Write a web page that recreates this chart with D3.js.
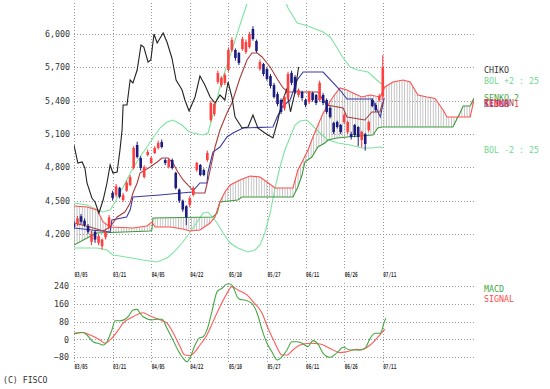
<!DOCTYPE html>
<html>
<head>
<meta charset="utf-8">
<script src="https://cdn.jsdelivr.net/npm/d3@7"></script>
<style>
  body { margin: 0; background: #fff; }
  svg { display: block; }
  text { font-family: "DejaVu Sans Mono", monospace; }
</style>
</head>
<body>
<div id="chart"></div>
<script>
// dates on the x axis, one label every 11 trading days (day index 0 = 03/05)
var dayLabels = ['03/05','03/21','04/05','04/22','05/10','05/27','06/11','06/26','07/11'];
var priceTicks = [4200, 4500, 4800, 5100, 5400, 5700, 6000];
var macdTicks = [-80, 0, 80, 160, 240];

// daily candles, day 0..88
var opens  = [4290,4290,4360,4320,4270,4130,4220,4120,4090,4170,4260,4570,4550,4615,4505,4590,4640,4794,5001,4884,
              4713,4911,4839,4929,4974,5028,4866,4803,4866,4750,4600,4500,4450,4461,4551,4776,4821,4776,4866,5226,
              5280,5568,5541,5559,5676,5856,5856,5829,5865,5838,5883,6045,5937,5685,5730,5685,5622,5541,5460,5406,
              5330,5420,5650,5613,5451,5478,5406,5388,5469,5451,5406,5451,5406,5334,5199,5208,5181,5208,5118,5100,
              5181,5163,5046,5100,5136,5406,5361,5406,5440];
var closes = [4263,4340,4310,4280,4220,4200,4150,4180,4150,4220,4350,4525,4630,4535,4550,4660,4713,4974,4893,4794,
              4803,4938,4884,4974,5019,4983,4839,4866,4794,4614,4500,4420,4350,4524,4614,4839,4731,4731,4929,5379,
              5370,5649,5604,5631,5856,5946,5784,5739,5955,5928,6000,5955,5847,5748,5640,5595,5532,5433,5370,5298,
              5433,5640,5560,5478,5496,5424,5361,5478,5406,5379,5560,5379,5298,5253,5118,5163,5118,5271,5208,5073,
              5091,5073,5118,5010,5208,5352,5316,5440,5700];
var highs  = [4317,4362,4380,4340,4290,4230,4236,4200,4160,4235,4370,4590,4650,4625,4570,4680,4730,4990,5030,4900,
              4820,4960,4900,4990,5040,5050,4880,4880,4880,4760,4610,4510,4460,4540,4630,4850,4830,4790,4950,5400,
              5390,5670,5620,5650,5880,5970,5870,5840,5975,5950,6020,6070,5950,5770,5740,5700,5640,5560,5480,5420,
              5450,5660,5670,5630,5510,5490,5420,5490,5480,5460,5580,5470,5420,5350,5210,5220,5190,5290,5220,5120,
              5190,5170,5130,5110,5220,5420,5380,5460,5810];
var lows   = [4245,4272,4290,4265,4200,4100,4120,4100,4060,4150,4250,4500,4530,4520,4490,4580,4630,4780,4880,4770,
              4700,4900,4830,4920,4960,4970,4820,4790,4780,4600,4480,4400,4280,4440,4540,4760,4720,4720,4850,5210,
              5260,5550,5520,5540,5660,5840,5760,5720,5850,5820,5870,5940,5830,5670,5620,5580,5510,5420,5350,5280,
              5310,5400,5540,5460,5430,5400,5340,5370,5390,5360,5390,5360,5280,5240,5100,5150,5100,5190,5100,5050,
              5070,4990,4980,4950,5120,5340,5300,5390,5400];

// indicator lines as [day, value]
var chiko = [[0,5001],[1.1,4839],[2.3,4848],[3.1,4794],[3.7,4659],[5.1,4524],[6,4488],[7.1,4389],[8.3,4506],[9.4,4659],
             [10.3,4821],[11.1,4749],[12.3,4758],[13.1,4956],[13.7,5136],[14,5361],[15.1,5361],[16,5586],[16.8,5559],
             [18,5676],[19.1,5901],[19.9,5883],[21.1,5748],[21.9,5766],[22.8,6000],[23.7,5919],[25.4,6009],[26.5,5928],
             [27.9,5784],[29.1,5586],[30.8,5496],[31.6,5406],[32.8,5307],[34.5,5433],[35.9,5622],[37.3,5541],[38.8,5433],
             [40.2,5379],[41.6,5451],[43,5406],[43.9,5568],[45,5433],[45.9,5253],[47.9,5154],[49.6,5163],[51,5271],
             [52.4,5154],[54.4,5109],[56.7,5064],[57.9,5199],[59.3,5388],[60.6,5500],[61.7,5300],[63,5480],[64,5703]];
var tenkan = [[0,4299],[4.6,4263],[8.3,4227],[10.3,4263],[12.3,4353],[14.5,4398],[16,4479],[16.8,4569],[18,4659],
              [18.8,4749],[21.7,4803],[23.7,4848],[25.1,4884],[26.8,4884],[28.2,4839],[29.6,4758],[31.1,4686],[32.5,4641],
              [34.5,4569],[37.3,4569],[38.2,4686],[40.2,4983],[41.6,5136],[43.6,5289],[45,5379],[47.3,5604],[49.3,5766],
              [50.7,5829],[52.2,5829],[53.6,5793],[55.9,5703],[58.1,5586],[59.6,5514],[61,5478],[69.5,5478],[71,5406],
              [72.1,5361],[76.7,5334],[77.8,5253],[82.9,5226],[84.9,5298],[87.2,5298],[88,5388]];
var kijun = [[0,4254],[10.3,4218],[10.8,4326],[15,4353],[16,4416],[16.8,4533],[24.5,4551],[33.6,4578],[35.9,4659],
             [37.9,4659],[38.2,4758],[39.6,4938],[41.6,4983],[43.6,5073],[45.3,5109],[48.2,5154],[56.7,5163],[57.9,5253],
             [59.3,5343],[61.6,5406],[63.6,5586],[65.3,5658],[71,5658],[75.8,5496],[77.8,5415],[85,5415],[87.3,5253],[88.4,5424]];
var senko1 = [[0,4452],[3.7,4443],[6.6,4416],[8.3,4308],[10.3,4263],[16.8,4254],[20.8,4272],[22.2,4308],[23.1,4263],
              [27.4,4263],[31,4245],[33,4227],[35.9,4236],[38.8,4299],[40.2,4353],[41.6,4488],[43,4578],[44.5,4641],
              [47.3,4686],[50.2,4722],[53,4713],[55,4668],[57.3,4614],[62.4,4614],[63.8,4776],[65,4848],[66.7,4956],
              [68.1,5073],[71,5289],[73.8,5433],[75.8,5514],[77.8,5496],[79.5,5469],[82,5433],[84.4,5451],[87.2,5433],
              [88.6,5523],[90.9,5568],[93.8,5586],[95.8,5568],[98,5451],[100.6,5433],[102.9,5420],[105.2,5316],
              [106.3,5253],[112.9,5253],[114,5406]];
var senko2 = [[0,4101],[3.7,4164],[6.6,4209],[21.7,4227],[22.2,4236],[22.5,4344],[39.6,4353],[40.8,4389],[41.6,4488],
              [46.7,4506],[47.9,4533],[62.4,4533],[63.8,4623],[65,4731],[65.8,4848],[67.8,4893],[69.5,4983],[71.5,5019],
              [72.4,5046],[75,5064],[77.8,5073],[85.2,5091],[86.6,5154],[87.8,5163],[108,5163],[110,5289],[110.9,5352],
              [112.9,5352],[114,5424]];
var bolUp = [[0,4479],[3.7,4461],[6.8,4416],[8.3,4398],[10.3,4416],[11.7,4488],[14,4623],[16.5,4776],[18.8,4893],
             [20.8,4983],[22.5,5064],[24.5,5154],[26.5,5208],[28.2,5226],[30.8,5181],[32.5,5127],[33.9,5109],[36.8,5091],
             [38.2,5109],[40.2,5343],[41.6,5523],[43.6,5721],[45.3,5883],[47.3,6081],[49,6243],[52,6550],[57,6550],
             [61,6234],[63.6,6099],[65.8,6081],[68.1,6054],[71,6018],[73,5973],[75,5874],[76.7,5784],[78.7,5703],
             [80.9,5676],[83.8,5658],[86.3,5586],[88,5541]];
var bolDn = [[0,4074],[6.6,4074],[9.4,4056],[11.1,4011],[13.1,4002],[19.7,3966],[23.7,3948],[26.5,3984],[28.2,4029],
             [30.8,4119],[32.5,4191],[34.5,4281],[36.8,4389],[38.2,4398],[40.8,4299],[42.5,4209],[44.5,4119],[46.7,4074],
             [49.6,4038],[51.6,4056],[53,4101],[54.4,4209],[55.9,4389],[57.3,4614],[58.7,4803],[60.1,4956],[61.6,5073],
             [63,5181],[64.4,5217],[66.4,5226],[67.8,5181],[70.7,5091],[72.4,5046],[75.2,5019],[78.7,5001],[82.1,4974],
             [84.9,4974],[87.2,4983],[88,4974]];

var macd = [[0,28],[2.6,31],[3.7,20],[5.4,-10],[7.4,-20],[8.3,-25],[9.4,-10],[10.8,43],[11.7,84],[13.1,84],[15.4,102],
            [16.8,132],[18,135],[18.8,118],[19.7,102],[22.2,88],[23.7,91],[25.1,91],[26.5,50],[28.2,-2],[29.6,-47],
            [31.1,-84],[32.2,-100],[33.1,-80],[34.5,-25],[35.6,5],[36.8,12],[37.9,43],[39.3,125],[40.8,215],[42.2,230],
            [43.6,249],[44.5,249],[45.3,237],[46.5,192],[47.3,180],[48.7,177],[50.7,162],[52.2,118],[53.6,43],[55,-17],
            [56.4,-55],[57.9,-92],[59.3,-77],[60.7,-47],[62.1,-10],[63.5,-10],[65,-17],[66.7,-32],[68.1,-5],[69.5,-20],
            [71,-62],[73,-80],[75,-59],[76.7,-35],[78.7,-47],[81.5,-47],[82.9,-40],[84.4,5],[85.8,28],[87.2,28],
            [87.8,43],[88.3,73],[88.9,95]];
var signal = [[0,25],[2.6,31],[4.6,20],[7.4,-2],[8.8,-17],[10.3,-2],[12.3,35],[14,73],[16.8,102],[19.7,120],[21.7,105],
              [24.5,88],[26.5,73],[28.8,13],[30.2,-32],[31.6,-70],[33.1,-72],[34.5,-55],[35.9,-25],[37.9,20],[39.6,80],
              [41.6,147],[43.6,207],[45,237],[46.7,222],[49.3,200],[51,170],[53.6,118],[55.3,50],[57.3,-17],[59.3,-70],
              [60.7,-70],[62.4,-47],[64.4,-25],[67.3,-17],[70.1,-20],[73,-40],[75.8,-59],[77.8,-55],[80.7,-44],
              [81.5,-47],[84.4,-25],[86.3,5],[88.6,46]];

var W = 550, H = 389;
var svg = d3.select("#chart").append("svg").attr("width", W).attr("height", H);

var x = d3.scaleLinear().domain([0, 114]).range([74, 474]);
var y = d3.scaleLinear().domain([4200, 6000]).range([234, 34]);
var ym = d3.scaleLinear().domain([-80, 240]).range([357.3, 286]);
var dayTicks = d3.range(0, 89, 11);

var defs = svg.append("defs");
defs.append("clipPath").attr("id", "clipMain")
  .append("rect").attr("x", 74).attr("y", 4).attr("width", 400).attr("height", 264);
defs.append("clipPath").attr("id", "clipMacd")
  .append("rect").attr("x", 74).attr("y", 281).attr("width", 400).attr("height", 82);
var pat = defs.append("pattern").attr("id", "hatch")
  .attr("patternUnits", "userSpaceOnUse").attr("x", 74).attr("width", 2.6).attr("height", 10);
pat.append("line").attr("x1", 0.5).attr("x2", 0.5).attr("y1", 0).attr("y2", 10)
  .attr("stroke", "#b0b0b0").attr("stroke-width", 0.8);

// grid
var grid = svg.append("g").attr("stroke", "#999").attr("stroke-dasharray", "1,2").attr("stroke-width", 1);
grid.selectAll(".hp").data(priceTicks).enter().append("line")
  .attr("x1", 74).attr("x2", 474).attr("y1", d => Math.round(y(d)) + 0.5).attr("y2", d => Math.round(y(d)) + 0.5);
grid.selectAll(".hm").data(macdTicks).enter().append("line")
  .attr("x1", 74).attr("x2", 474).attr("y1", d => Math.round(ym(d)) + 0.5).attr("y2", d => Math.round(ym(d)) + 0.5);
grid.selectAll(".vp").data(dayTicks).enter().append("line")
  .attr("x1", d => Math.round(x(d)) + 0.5).attr("x2", d => Math.round(x(d)) + 0.5).attr("y1", 3).attr("y2", 270);
grid.selectAll(".vm").data(dayTicks).enter().append("line")
  .attr("x1", d => Math.round(x(d)) + 0.5).attr("x2", d => Math.round(x(d)) + 0.5).attr("y1", 283).attr("y2", 363);

// axes labels
var yAxis = svg.append("g").attr("transform", "translate(74,0)")
  .call(d3.axisLeft(y).tickValues(priceTicks).tickFormat(d3.format(",")).tickSize(0).tickPadding(4));
var mAxis = svg.append("g").attr("transform", "translate(74,0)")
  .call(d3.axisLeft(ym).tickValues(macdTicks).tickFormat(d3.format("d")).tickSize(0).tickPadding(5));
[yAxis, mAxis].forEach(function(g) {
  g.select(".domain").remove();
  g.selectAll("text").attr("font-size", 8.3).attr("font-family", "DejaVu Sans Mono").attr("fill", "#333");
});

function dateAxis(yy) {
  var g = svg.append("g").attr("transform", "translate(0," + yy + ")")
    .call(d3.axisBottom(x).tickValues(dayTicks).tickFormat((d, i) => dayLabels[i]).tickSize(0).tickPadding(0));
  g.select(".domain").remove();
  g.selectAll("text").attr("font-size", 7).attr("font-family", "DejaVu Sans Mono").attr("font-weight", "bold")
    .attr("fill", "#333").attr("text-anchor", "start").attr("dx", 0)
    .attr("textLength", 13).attr("lengthAdjust", "spacingAndGlyphs");
}
dateAxis(272.5);
dateAxis(364);

var main = svg.append("g").attr("clip-path", "url(#clipMain)");
var line = d3.line().x(d => x(d[0])).y(d => y(d[1]));

// cloud between senko spans
var cloud = senko1.concat(senko2.slice().reverse());
main.append("path").attr("d", line(cloud) + "Z").attr("fill", "url(#hatch)").attr("stroke", "none");

function drawLine(g, data, color, fn) {
  g.append("path").attr("d", fn(data)).attr("fill", "none").attr("stroke", color).attr("stroke-width", 1.1);
}
drawLine(main, bolUp, "#7fe3a0", line);
drawLine(main, bolDn, "#7fe3a0", line);
drawLine(main, senko2, "#3d9a3d", line);
drawLine(main, senko1, "#ff5050", line);
drawLine(main, kijun, "#3a3aa8", line);
drawLine(main, tenkan, "#a83c3c", line);
drawLine(main, chiko, "#222", line);

// candles
var candles = main.selectAll(".cdl").data(d3.range(opens.length)).enter().append("g");
candles.append("line")
  .attr("x1", i => x(i)).attr("x2", i => x(i))
  .attr("y1", i => y(highs[i])).attr("y2", i => y(lows[i]))
  .attr("stroke", i => closes[i] >= opens[i] ? "#ff3030" : "#1c1c80").attr("stroke-width", 1);
candles.append("rect")
  .attr("x", i => x(i) - 1.3).attr("width", 2.6)
  .attr("y", i => y(Math.max(opens[i], closes[i])))
  .attr("height", i => Math.max(1, Math.abs(y(opens[i]) - y(closes[i]))))
  .attr("fill", i => closes[i] >= opens[i] ? "#ff4040" : "#1c1c80");

// macd panel
var mg = svg.append("g").attr("clip-path", "url(#clipMacd)");
var mline = d3.line().x(d => x(d[0])).y(d => ym(d[1])).curve(d3.curveMonotoneX);
drawLine(mg, signal, "#ff5a5a", mline);
drawLine(mg, macd, "#44a844", mline);

// legend texts (the ichimoku names sit on top of each other, as in the original)
var legend = [
  { t: "CHIKO", c: "#333", y: 73 },
  { t: "BOL +2 : 25", c: "#6fd88f", y: 83.5 },
  { t: "SENKO 2", c: "#44a844", y: 101 },
  { t: "TENKAN", c: "#b04040", y: 106 },
  { t: "KIJUN", c: "#3a3aa8", y: 106.5 },
  { t: "SENKO 1", c: "#ff4040", y: 107 },
  { t: "BOL -2 : 25", c: "#6fd88f", y: 153 },
  { t: "MACD", c: "#44a844", y: 292 },
  { t: "SIGNAL", c: "#ff4a4a", y: 302 }
];
svg.selectAll(".lg").data(legend).enter().append("text")
  .attr("x", 484).attr("y", d => d.y).attr("fill", d => d.c)
  .attr("font-size", 8.3).text(d => d.t);

svg.append("text").attr("x", 3).attr("y", 383).attr("font-size", 8.2).attr("fill", "#333").text("(C) FISCO");
</script>
</body>
</html>
